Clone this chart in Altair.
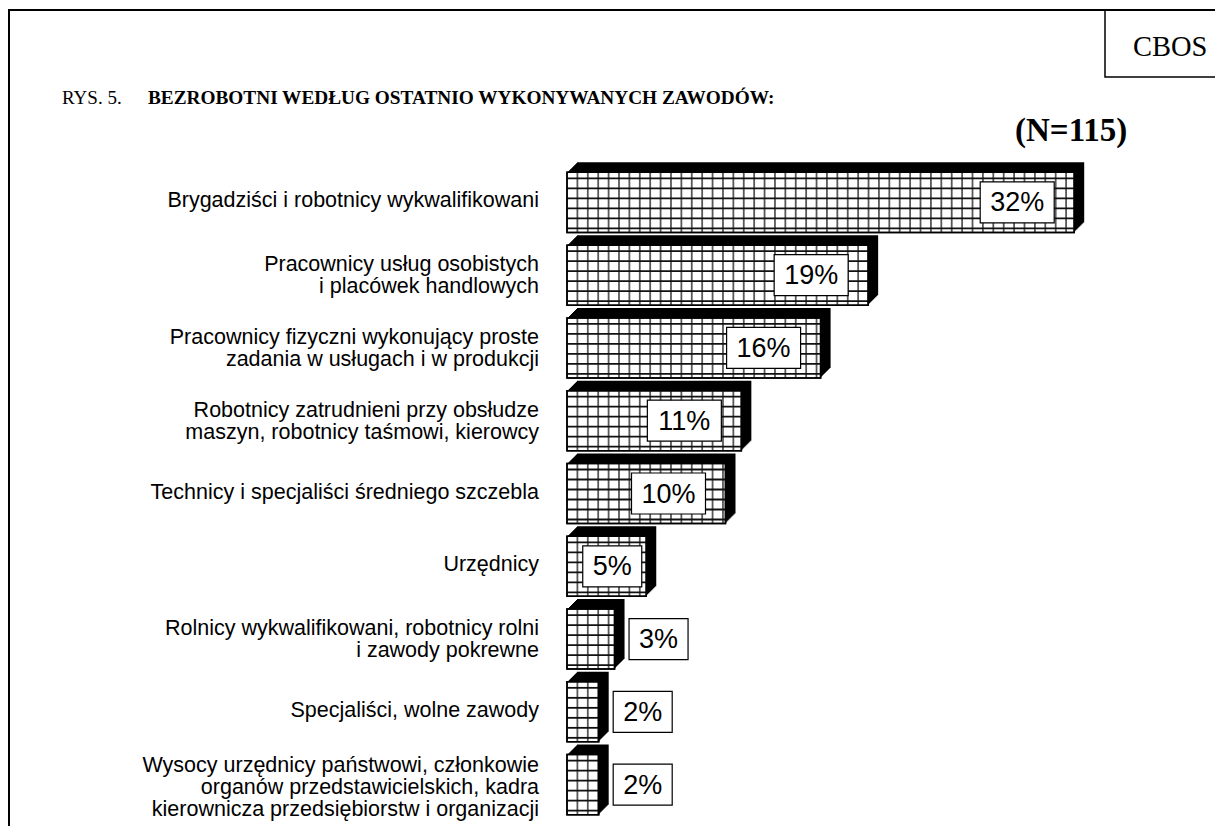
import altair as alt
import pandas as pd

categories = [
    "Brygadziści i robotnicy wykwalifikowani",
    "Pracownicy usług osobistych\ni placówek handlowych",
    "Pracownicy fizyczni wykonujący proste\nzadania w usługach i w produkcji",
    "Robotnicy zatrudnieni przy obsłudze\nmaszyn, robotnicy taśmowi, kierowcy",
    "Technicy i specjaliści średniego szczebla",
    "Urzędnicy",
    "Rolnicy wykwalifikowani, robotnicy rolni\ni zawody pokrewne",
    "Specjaliści, wolne zawody",
    "Wysocy urzędnicy państwowi, członkowie\norganów przedstawicielskich, kadra\nkierownicza przedsiębiorstw i organizacji",
]
values = [32, 19, 16, 11, 10, 5, 3, 2, 2]

title_prefix = "RYS. 5."
title_main = "BEZROBOTNI WEDŁUG OSTATNIO WYKONYWANYCH ZAWODÓW:"
n_note = "(N=115)"
source = "CBOS"

df = pd.DataFrame({"cat": categories, "value": values})

W, H = 634, 655
X_MAX = 40
GRID_STEP = 0.656
SANS = "Liberation Sans"
SERIF = "Liberation Serif"
LINE_H = 22

xs = alt.Scale(domain=[0, X_MAX], nice=False, zero=True)
ys = alt.Scale(domain=categories, paddingInner=0.175, paddingOuter=0.0875)

X = alt.X("value:Q", scale=xs, axis=None)
Y = alt.Y("cat:N", scale=ys, sort=None, axis=None)

base = alt.Chart(df)
one = alt.Data(values=[{"k": 1}])

frame = alt.Chart(one).mark_rect(fill="white", fillOpacity=0, stroke="black", strokeWidth=2).encode(
    x=alt.value(-558), x2=alt.value(800), y=alt.value(-156), y2=alt.value(900)
)
cbos_box = alt.Chart(one).mark_rect(fill="white", fillOpacity=0, stroke="black", strokeWidth=1.5).encode(
    x=alt.value(538), x2=alt.value(800), y=alt.value(-156), y2=alt.value(-89)
)
cbos_text = alt.Chart(one).mark_text(font=SERIF, fontSize=28.5, align="left", baseline="alphabetic").encode(
    x=alt.value(566), y=alt.value(-110), text=alt.value(source)
)
t1 = alt.Chart(one).mark_text(font=SERIF, fontSize=19, align="left", baseline="alphabetic").encode(
    x=alt.value(-505), y=alt.value(-62), text=alt.value(title_prefix)
)
t2 = alt.Chart(one).mark_text(font=SERIF, fontSize=19.3, fontWeight="bold", align="left", baseline="alphabetic").encode(
    x=alt.value(-419), y=alt.value(-62), text=alt.value(title_main)
)
t3 = alt.Chart(one).mark_text(font=SERIF, fontSize=33, fontWeight="bold", align="left", baseline="alphabetic").encode(
    x=alt.value(448), y=alt.value(-25), text=alt.value(n_note)
)

# category labels, right-aligned left of the bars, block centred on each bar
cat_labels = []
counted = base.transform_calculate(nlines="length(split(datum.cat, '\\n'))")
for n in [1, 2, 3]:
    cat_labels.append(
        counted.transform_filter(f"datum.nlines == {n}").mark_text(
            font=SANS, fontSize=21.5, lineHeight=LINE_H, lineBreak="\n", align="right", baseline="middle",
            color="black", dy=-(n - 1) * 9 - 1
        ).encode(x=alt.value(-28), y=Y, text="cat:N")
    )

# 3D extrusion: stacked black copies shifted up-right
depth = []
for k in range(1, 11):
    depth.append(
        base.mark_bar(color="black", xOffset=k, x2Offset=k, yOffset=-k, y2Offset=-k).encode(x=X, y=Y)
    )

face = base.mark_bar(fill="white", stroke="black", strokeWidth=1.5).encode(x=X, y=Y)

vgrid = base.transform_calculate(
    seq=f"sequence(1, datum.value / {GRID_STEP})"
).transform_flatten(["seq"]).transform_calculate(
    pos=f"datum.seq * {GRID_STEP}"
).mark_tick(color="#111111", size=60, thickness=1.8).encode(
    x=alt.X("pos:Q", scale=xs, axis=None), y=Y
)

hgrid = []
for off in [-24, -14, -4, 6, 16, 26]:
    hgrid.append(
        base.transform_calculate(zero="0").mark_rule(color="#111111", strokeWidth=1.8, yOffset=off).encode(
            x=alt.X("zero:Q", scale=xs, axis=None), x2="value:Q", y=Y
        )
    )

outline = base.mark_bar(fill="white", fillOpacity=0, stroke="black", strokeWidth=1.5).encode(x=X, y=Y)

lab = base.transform_calculate(label="datum.value + '%'")
PATH2 = "M-1,-0.554L1,-0.554L1,0.554L-1,0.554Z"
PATH1 = "M-1,-0.695L1,-0.695L1,0.695L-1,0.695Z"

groups = [
    ("datum.value >= 10", -57, PATH2, 74 * 74),
    ("datum.value >= 5 && datum.value < 10", -34, PATH1, 59 * 59),
    ("datum.value < 5", 44, PATH1, 59 * 59),
]
labels = []
for cond, off, path, size in groups:
    g = lab.transform_filter(cond)
    labels.append(
        g.mark_point(shape=path, size=size, filled=True, fill="white", stroke="black", strokeWidth=1.2,
                     opacity=1, xOffset=off).encode(x=X, y=Y)
    )
    labels.append(
        g.mark_text(font=SANS, fontSize=27, color="black", align="center", baseline="middle", dx=off, dy=1).encode(
            x=X, y=Y, text="label:N"
        )
    )

chart = alt.layer(
    frame, cbos_box, cbos_text, t1, t2, t3, *cat_labels, *depth, face, vgrid, *hgrid, outline, *labels
).properties(
    width=W,
    height=H,
    padding={"left": 559, "top": 158, "right": 14, "bottom": 5},
    autosize=alt.AutoSizeParams(type="none"),
).configure_view(stroke=None)

chart.save("out.html", embed_options={"renderer": "svg", "actions": False})
